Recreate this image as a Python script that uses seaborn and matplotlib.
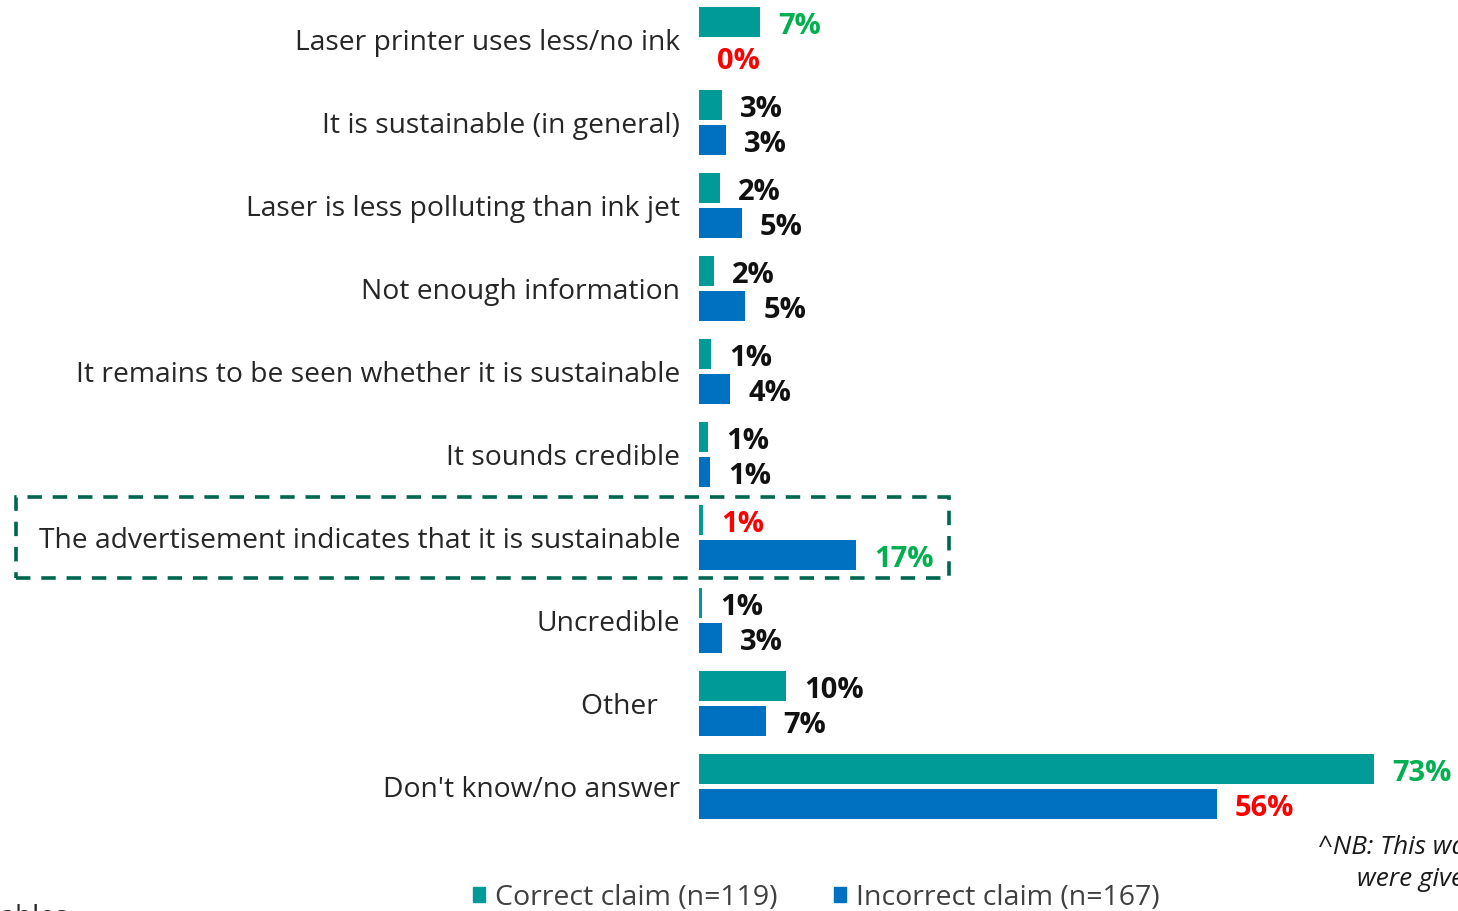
import pandas as pd
import matplotlib
matplotlib.use("Agg")
import matplotlib.pyplot as plt
import matplotlib.patches as mpatches
import seaborn as sns

# --- Data ---
categories = [
    "Laser printer uses less/no ink",
    "It is sustainable (in general)",
    "Laser is less polluting than ink jet",
    "Not enough information",
    "It remains to be seen whether it is sustainable",
    "It sounds credible",
    "The advertisement indicates that it is sustainable",
    "Uncredible",
    "Other   ",
    "Don't know/no answer",
]
correct_vals = [6.6, 2.5, 2.3, 1.6, 1.3, 1.0, 0.4, 0.3, 9.4, 73.0]
incorrect_vals = [0.0, 2.9, 4.6, 5.0, 3.4, 1.2, 17.0, 2.5, 7.2, 56.0]
correct_labels = ["7%", "3%", "2%", "2%", "1%", "1%", "1%", "1%", "10%", "73%"]
incorrect_labels = ["0%", "3%", "5%", "5%", "4%", "1%", "17%", "3%", "7%", "56%"]
correct_label_colors = ["#00B050", "#111111", "#111111", "#111111", "#111111",
                        "#111111", "#FF0000", "#111111", "#111111", "#00B050"]
incorrect_label_colors = ["#FF0000", "#111111", "#111111", "#111111", "#111111",
                          "#111111", "#00B050", "#111111", "#111111", "#FF0000"]
series = ["Correct claim (n=119)", "Incorrect claim (n=167)"]
palette = {series[0]: "#009A97", series[1]: "#0070C0"}

df = pd.DataFrame({
    "Category": categories * 2,
    "Share": correct_vals + incorrect_vals,
    "Claim": [series[0]] * len(categories) + [series[1]] * len(categories),
})

# --- Plot ---
sns.set_theme(style="white")
plt.rcParams["font.family"] = ["Open Sans", "DejaVu Sans"]

W, H = 1458, 911
fig = plt.figure(figsize=(W / 100, H / 100), dpi=100)
ax = fig.add_axes([699 / W, 0.0, 1 - 699 / W, 1.0])

sns.barplot(data=df, y="Category", x="Share", hue="Claim", order=categories,
            hue_order=series, palette=palette, orient="h", width=0.84, gap=0.12,
            saturation=1, edgecolor="none", legend=False, ax=ax)

px_per_pct = 9.25
ax.set_xlim(0, (W - 699) / px_per_pct)
ax.set_ylim(9 + (H - 786.5) / 83, -39.5 / 83)

for cont, labs, cols in zip(ax.containers, [correct_labels, incorrect_labels],
                            [correct_label_colors, incorrect_label_colors]):
    texts = ax.bar_label(cont, labels=labs, padding=13, fontsize=21,
                         fontweight="bold", clip_on=False)
    for t, c in zip(texts, cols):
        t.set_color(c)
        x, y = t.get_position()   # offset points
        t.set_position((x, y - 3))

ax.set_xlabel("")
ax.set_ylabel("")
ax.set_xticks([])
ax.tick_params(axis="y", length=0, pad=13.5, labelsize=20.3, labelcolor="#262626")
sns.despine(ax=ax, left=True, bottom=True)

# dashed highlight box
box = mpatches.Rectangle((16 / W, 1 - 578 / H), (949 - 16) / W, (578 - 497) / H,
                         transform=fig.transFigure, fill=False, edgecolor="#00664F",
                         linewidth=2.6, linestyle=(0, (4, 3)), clip_on=False)
fig.add_artist(box)

# legend
handles = [mpatches.Patch(color=palette[s], label=s) for s in series]
fig.legend(handles=handles, loc="center", bbox_to_anchor=(0.56, 1 - 898 / H), ncol=2,
           frameon=False, fontsize=20.5, handlelength=0.42, handleheight=0.42,
           handletextpad=0.35, columnspacing=2.0, labelcolor="#404040")

# notes cut at the figure edges, as in the reference
fig.text(1318 / W, 1 - 848 / H, "^NB: This was an open question", fontsize=18.8,
         style="italic", color="#1a1a1a", va="center", ha="left")
fig.text(1357 / W, 1 - 880 / H, "were given multiple answers", fontsize=18.8,
         style="italic", color="#1a1a1a", va="center", ha="left")
fig.text(68 / W, 1 - 918 / H, "Base: see tables", fontsize=20, color="#262626",
         va="center", ha="right")

fig.savefig("out.png", dpi=100)
